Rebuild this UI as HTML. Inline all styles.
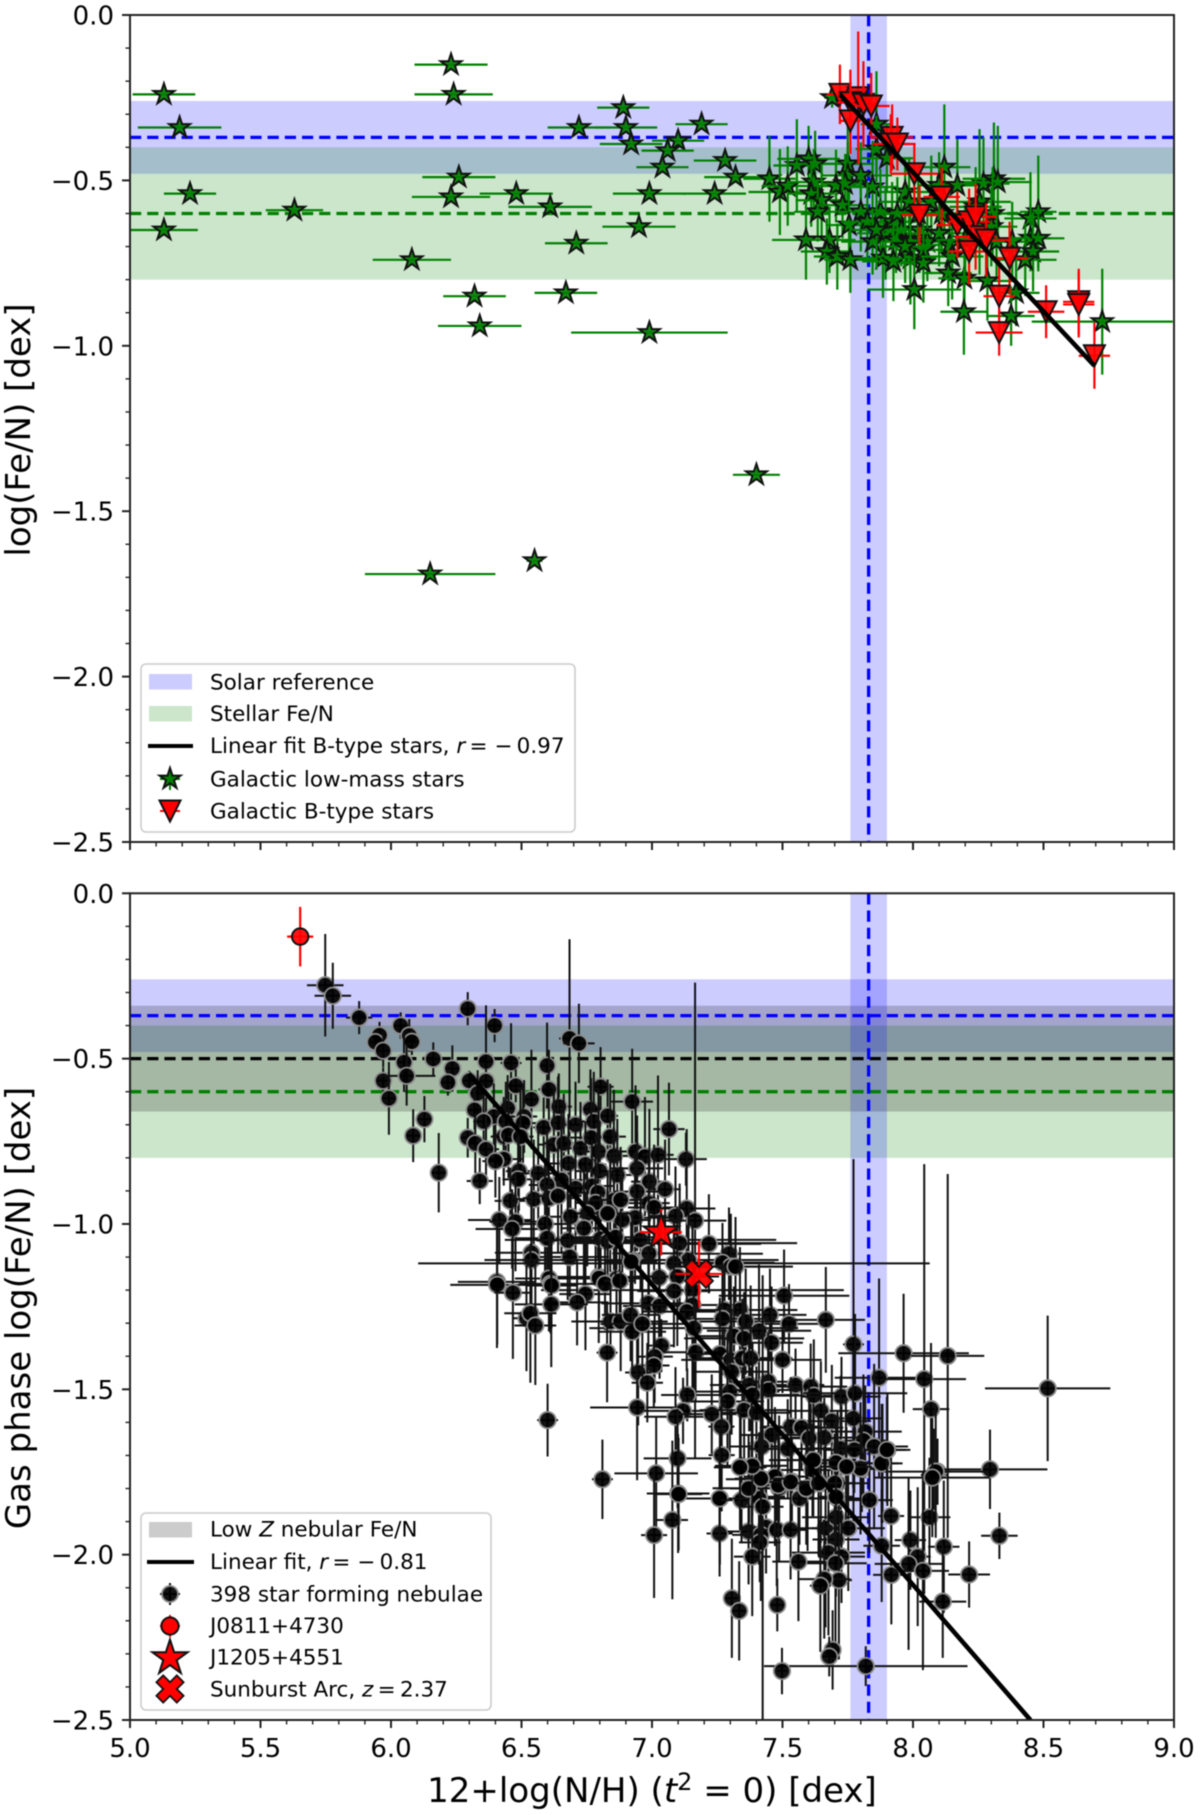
<!DOCTYPE html>
<html lang="en"><head><meta charset="utf-8"><title>Fe/N versus N/H abundance</title>
<style>
html,body{margin:0;padding:0;background:#fff;width:1200px;height:1815px;overflow:hidden}
svg{display:block;filter:blur(0.45px)}
text{font-family:"DejaVu Sans","Liberation Sans",sans-serif;fill:#000}
.tick{font-size:26px}
.axis{font-size:34px}
.leg{font-size:21.5px}
</style></head>
<body>
<svg id="chart" xmlns="http://www.w3.org/2000/svg" width="1200" height="1815" viewBox="0 0 1200 1815">
<defs>
<clipPath id="clip-top"><rect x="130" y="15" width="1044" height="827"/></clipPath>
<clipPath id="clip-bot"><rect x="130" y="893.3" width="1044" height="826.8"/></clipPath>
</defs>
<g id="top-data" clip-path="url(#clip-top)"></g>
<g id="bot-data" clip-path="url(#clip-bot)"></g>
<g id="axes"></g>

<text class="axis" transform="translate(30,430) rotate(-90)" text-anchor="middle">log(Fe/N) [dex]</text>
<text class="axis" transform="translate(30,1308) rotate(-90)" text-anchor="middle">Gas phase log(Fe/N) [dex]</text>
<text class="axis" x="652" y="1802" text-anchor="middle">12+log(N/H) (<tspan font-style="italic">t</tspan><tspan dy="-12" font-size="24px">2</tspan><tspan dy="12"> = 0) [dex]</tspan></text>

<g id="legend-top">
<rect x="141" y="664" width="434" height="168" rx="5" fill="#fff" fill-opacity=".8" stroke="#ccc" stroke-width="1.6"/>
<rect x="149" y="674" width="43" height="15.5" fill="#ccccff"/>
<rect x="149" y="706" width="43" height="15.5" fill="#cce6cc"/>
<line x1="148" x2="193" y1="746" y2="746" stroke="#000" stroke-width="4"/>
<g id="legend-top-glyphs"></g>
<text class="leg" x="210" y="689.5">Solar reference</text>
<text class="leg" x="210" y="721">Stellar Fe/N</text>
<text class="leg" x="210" y="753">Linear fit B-type stars, <tspan font-style="italic">r</tspan>&#8201;= −&#8201;0.97</text>
<text class="leg" x="210" y="786.5">Galactic low-mass stars</text>
<text class="leg" x="210" y="818.5">Galactic B-type stars</text>
</g>

<g id="legend-bot">
<rect x="141" y="1513" width="350" height="197" rx="5" fill="#fff" fill-opacity=".8" stroke="#ccc" stroke-width="1.6"/>
<rect x="149" y="1522" width="43" height="15.5" fill="#cccccc"/>
<line x1="147" x2="194" y1="1562" y2="1562" stroke="#000" stroke-width="4"/>
<g id="legend-bot-glyphs"></g>
<text class="leg" x="210" y="1536.5">Low <tspan font-style="italic">Z</tspan> nebular Fe/N</text>
<text class="leg" x="210" y="1569">Linear fit, <tspan font-style="italic">r</tspan>&#8201;= −&#8201;0.81</text>
<text class="leg" x="210" y="1601.5">398 star forming nebulae</text>
<text class="leg" x="210" y="1633">J0811+4730</text>
<text class="leg" x="210" y="1664.5">J1205+4551</text>
<text class="leg" x="210" y="1696.5">Sunburst Arc, <tspan font-style="italic">z</tspan>&#8201;=&#8201;2.37</text>
</g>
</svg>

<script>
// ---------- axis values ----------
const xTicks = [5.0,5.5,6.0,6.5,7.0,7.5,8.0,8.5,9.0];
const xTickLabels = ["5.0","5.5","6.0","6.5","7.0","7.5","8.0","8.5","9.0"];
const yTicks = [0,-0.5,-1.0,-1.5,-2.0,-2.5];
const yTickLabels = ["0.0","−0.5","−1.0","−1.5","−2.0","−2.5"];
const xMinorTicks = [5.1,5.2,5.3,5.4,5.6,5.7,5.8,5.9,6.1,6.2,6.3,6.4,6.6,6.7,6.8,6.9,7.1,7.2,7.3,7.4,7.6,7.7,7.8,7.9,8.1,8.2,8.3,8.4,8.6,8.7,8.8,8.9];
const yMinorTicks = [-0.1,-0.2,-0.3,-0.4,-0.6,-0.7,-0.8,-0.9,-1.1,-1.2,-1.3,-1.4,-1.6,-1.7,-1.8,-1.9,-2.1,-2.2,-2.3,-2.4];

// ---------- reference bands and lines ----------
const solarBandY = [-0.26,-0.48];
const stellarBandY = [-0.40,-0.80];
const nebularBandY = [-0.34,-0.66];
const solarBandX = [7.76,7.90];
const solarFeN = [-0.37];
const stellarFeN = [-0.60];
const nebularFeN = [-0.50];
const solarNH = [7.83];

// ---------- top panel: low-mass stars ----------
const starX = [5.13,5.19,5.23,5.13,5.63,6.08,6.23,6.24,6.26,6.23,
6.32,6.34,6.48,6.61,6.72,6.71,6.67,6.89,6.90,6.92,
6.99,6.95,6.99,7.10,7.06,7.04,7.19,7.28,7.32,7.24,
7.40,6.55,6.15,
7.69,7.86,7.86,7.90,7.75,7.555,7.60,7.625,8.12,7.45,
7.49,7.52,7.62,7.75,7.80,7.705,7.74,7.845,7.61,7.65,
7.635,7.73,7.80,7.875,7.97,7.985,8.07,8.10,8.17,8.255,
8.27,8.31,8.325,8.11,8.305,8.48,8.45,7.755,7.825,7.895,
7.92,7.955,8.025,7.935,7.99,8.055,7.845,7.59,7.68,7.67,
7.71,7.76,7.885,7.925,7.99,8.04,8.04,8.14,8.15,8.30,
8.32,8.38,8.45,8.48,8.46,8.43,8.135,8.197,8.285,8.005,
8.395,8.195,8.376,8.725,7.94,8.02,7.86,8.24,8.10,7.97,8.20];
const starY = [-0.24,-0.34,-0.54,-0.65,-0.59,-0.74,-0.15,-0.24,-0.49,-0.55,
-0.85,-0.94,-0.54,-0.58,-0.34,-0.69,-0.84,-0.28,-0.34,-0.39,
-0.54,-0.64,-0.96,-0.38,-0.41,-0.46,-0.33,-0.44,-0.49,-0.54,
-1.39,-1.65,-1.69,
-0.25,-0.33,-0.405,-0.433,-0.45,-0.455,-0.435,-0.45,-0.46,-0.495,
-0.535,-0.517,-0.505,-0.485,-0.485,-0.517,-0.51,-0.52,-0.54,-0.56,
-0.595,-0.575,-0.595,-0.595,-0.535,-0.565,-0.565,-0.515,-0.515,-0.565,
-0.51,-0.495,-0.505,-0.60,-0.60,-0.595,-0.615,-0.635,-0.625,-0.66,
-0.625,-0.65,-0.65,-0.68,-0.685,-0.685,-0.685,-0.68,-0.68,-0.715,
-0.73,-0.74,-0.735,-0.745,-0.735,-0.71,-0.75,-0.695,-0.73,-0.64,
-0.685,-0.685,-0.675,-0.675,-0.715,-0.74,-0.78,-0.796,-0.804,-0.83,
-0.84,-0.897,-0.91,-0.927,-0.60,-0.60,-0.65,-0.58,-0.66,-0.70,-0.68];
const starXErr = [0.12,0.16,0.10,0.13,0.11,0.15,0.14,0.15,0.14,0.15,
0.12,0.16,0.14,0.16,0.12,0.12,0.12,0.10,0.12,0.12,
0.14,0.14,0.30,0.10,0.10,0.10,0.10,0.12,0.12,0.12,
0.09,0.03,0.25,
0.03,0.06,0.08,0.10,0.10,0.09,0.12,0.10,0.10,0.10,
0.12,0.10,0.10,0.10,0.12,0.10,0.09,0.10,0.09,0.10,
0.09,0.10,0.10,0.11,0.10,0.12,0.10,0.08,0.10,0.12,
0.10,0.12,0.13,0.10,0.11,0.07,0.10,0.09,0.10,0.11,
0.12,0.10,0.11,0.10,0.10,0.10,0.12,0.13,0.10,0.10,
0.09,0.10,0.13,0.12,0.10,0.10,0.10,0.11,0.12,0.10,
0.10,0.09,0.08,0.10,0.10,0.12,0.09,0.10,0.10,0.18,
0.09,0.09,0.09,0.27,0.10,0.11,0.09,0.10,0.12,0.10,0.11];
const starYErr = [0,0,0,0,0,0,0,0,0,0,
0,0,0,0,0,0,0,0,0,0,
0,0,0,0,0,0,0,0,0,0,
0,0,0,
0.03,0.16,0.10,0.10,0.14,0.14,0.10,0.10,0.19,0.13,
0.13,0.12,0.10,0.10,0.10,0.11,0.09,0.14,0.10,0.11,
0.09,0.10,0.12,0.13,0.10,0.13,0.14,0.10,0.14,0.22,
0.14,0.17,0.17,0.12,0.14,0.17,0.14,0.10,0.12,0.14,
0.12,0.11,0.13,0.10,0.12,0.12,0.10,0.12,0.10,0.10,
0.10,0.10,0.12,0.12,0.14,0.12,0.12,0.11,0.13,0.12,
0.11,0.12,0.10,0.10,0.12,0.11,0.10,0.10,0.12,0.12,
0.10,0.13,0.09,0.16,0.11,0.10,0.12,0.12,0.10,0.11,0.10];

// ---------- top panel: B-type stars ----------
const bStarX = [7.72,7.79,7.76,7.81,7.76,7.84,7.92,7.915,7.94,8.005,8.11,8.025,8.17,8.215,8.24,8.24,8.28,8.215,8.37,8.33,8.33,8.51,8.635,8.635,8.695];
const bStarY = [-0.24,-0.25,-0.265,-0.27,-0.32,-0.275,-0.37,-0.39,-0.39,-0.48,-0.55,-0.605,-0.635,-0.625,-0.61,-0.67,-0.68,-0.715,-0.735,-0.85,-0.96,-0.897,-0.867,-0.875,-1.03];
const bStarXErr = [0.05,0.06,0.05,0.05,0.04,0.07,0.08,0.07,0.07,0.09,0.07,0.07,0.08,0.08,0.08,0.08,0.09,0.08,0.07,0.06,0.09,0.07,0.06,0.06,0.06];
const bStarYErr = [0.09,0.20,0.10,0.13,0.10,0.10,0.10,0.09,0.08,0.09,0.09,0.09,0.10,0.10,0.10,0.10,0.11,0.10,0.11,0.11,0.07,0.08,0.10,0.10,0.10];
const bStarFitX = [7.72,8.695];
const bStarFitY = [-0.24,-1.06];

// ---------- bottom panel: nebulae ----------
const nebulaX = [5.748,5.777,5.878,6.294,6.397,6.037,5.956,5.94,6.07,6.08,
5.97,6.05,6.162,6.235,6.364,6.46,6.598,6.684,6.72,5.97,
6.06,6.218,6.30,6.364,6.478,6.605,6.803,5.992,6.332,6.538,
6.447,6.32,6.643,6.764,6.128,6.085,6.183,6.394,6.355,6.44,
6.51,6.506,6.585,6.64,6.707,6.777,6.83,6.294,6.323,6.364,
6.432,6.45,6.496,6.432,6.40,6.49,6.487,6.34,6.457,6.564,
6.624,6.662,6.726,6.767,6.84,6.795,6.68,6.745,6.854,6.80,
6.867,6.653,6.598,6.707,6.77,6.793,6.547,6.605,6.64,6.784,
6.84,6.752,6.854,6.688,6.739,6.415,6.477,6.464,6.59,6.598,
6.677,6.803,6.83,6.685,6.538,6.538,6.796,6.864,6.605,6.406,
6.924,7.065,6.937,6.973,7.023,7.13,6.943,6.99,7.05,6.943,
6.988,7.008,7.133,7.09,7.165,6.935,6.886,6.956,6.988,6.925,
7.106,7.218,7.14,7.084,7.295,7.27,7.302,7.32,7.027,7.097,
7.084,7.155,7.506,6.986,7.029,7.155,7.133,7.278,7.337,7.452,
7.27,7.359,7.525,7.666,7.41,7.16,7.314,7.353,7.458,7.772,
7.036,7.167,7.26,7.302,7.346,7.378,7.50,7.964,8.133,7.01,
7.007,6.947,6.982,7.305,7.87,8.043,7.372,7.445,7.55,7.608,
7.298,7.446,7.135,7.62,7.726,7.778,7.385,7.289,6.943,7.647,
8.069,7.119,7.09,7.229,7.353,7.40,7.689,7.771,6.60,7.266,
7.532,7.573,7.459,7.817,7.81,7.66,7.602,7.42,7.52,7.723,
7.775,7.851,7.902,7.098,7.267,7.34,7.382,7.608,7.711,7.743,
7.804,7.883,7.615,7.016,6.81,8.08,8.094,7.423,7.472,7.536,
7.647,7.711,7.596,7.372,7.487,7.10,7.41,7.26,7.711,6.407,
6.467,6.611,6.615,6.797,6.82,6.876,6.745,6.713,6.614,6.519,
6.534,6.553,6.841,6.88,6.918,6.924,6.963,6.828,6.86,6.83,
6.88,6.92,7.833,7.916,8.063,7.078,7.008,7.259,7.37,7.437,
7.417,7.478,7.531,7.665,7.705,7.752,7.705,7.413,7.384,7.99,
8.331,8.118,7.88,7.676,7.726,8.018,7.703,7.561,7.983,8.038,
8.215,7.917,7.716,7.66,7.645,8.114,7.306,7.334,7.48,7.692,
7.679,7.819,7.498,8.295,8.087,8.074,7.102,7.259,7.343,7.41,
7.37,7.424,7.565,7.591,7.471,7.484,7.531,7.417,7.70,7.638,
7.705,7.799,7.88,7.705,7.618,7.384,7.337,7.745,7.90,8.516];
const nebulaY = [-0.278,-0.31,-0.376,-0.349,-0.40,-0.40,-0.429,-0.45,-0.43,-0.449,
-0.476,-0.511,-0.501,-0.53,-0.509,-0.513,-0.521,-0.439,-0.454,-0.567,
-0.552,-0.572,-0.567,-0.568,-0.582,-0.593,-0.585,-0.62,-0.605,-0.623,
-0.65,-0.655,-0.645,-0.653,-0.683,-0.733,-0.845,-0.675,-0.69,-0.69,
-0.675,-0.695,-0.708,-0.694,-0.70,-0.69,-0.673,-0.739,-0.756,-0.774,
-0.736,-0.731,-0.736,-0.804,-0.81,-0.84,-0.865,-0.87,-0.93,-0.847,
-0.76,-0.756,-0.771,-0.739,-0.736,-0.781,-0.817,-0.82,-0.794,-0.84,
-0.852,-0.867,-0.882,-0.892,-0.885,-0.905,-0.925,-0.922,-0.915,-0.936,
-0.965,-0.968,-0.928,-0.978,-1.013,-0.988,-0.993,-1.015,-1.00,-1.043,
-1.05,-1.045,-1.053,-1.10,-1.087,-1.109,-1.16,-1.165,-1.165,-1.175,
-0.63,-0.713,-0.781,-0.796,-0.791,-0.804,-0.832,-0.872,-0.895,-0.902,
-0.937,-0.95,-0.953,-0.976,-0.99,-0.981,-0.988,-1.048,-1.089,-1.109,
-1.058,-1.06,-1.109,-1.119,-1.09,-1.117,-1.129,-1.129,-1.162,-1.159,
-1.203,-1.20,-1.217,-1.24,-1.248,-1.245,-1.265,-1.26,-1.26,-1.275,
-1.287,-1.295,-1.302,-1.29,-1.323,-1.315,-1.339,-1.346,-1.359,-1.364,
-1.368,-1.388,-1.393,-1.411,-1.406,-1.406,-1.411,-1.391,-1.399,-1.401,
-1.428,-1.449,-1.48,-1.447,-1.465,-1.469,-1.487,-1.477,-1.487,-1.492,
-1.507,-1.502,-1.517,-1.519,-1.522,-1.512,-1.517,-1.537,-1.555,-1.565,
-1.56,-1.565,-1.583,-1.575,-1.563,-1.571,-1.596,-1.588,-1.593,-1.613,
-1.613,-1.616,-1.638,-1.628,-1.655,-1.646,-1.648,-1.673,-1.68,-1.679,
-1.683,-1.673,-1.683,-1.709,-1.699,-1.734,-1.731,-1.714,-1.724,-1.734,
-1.741,-1.724,-1.744,-1.754,-1.772,-1.759,-1.749,-1.772,-1.764,-1.779,
-1.784,-1.784,-1.799,-1.799,-1.799,-1.815,-1.825,-1.83,-1.83,-1.184,
-1.208,-1.181,-1.186,-1.164,-1.181,-1.172,-1.212,-1.237,-1.243,-1.285,
-1.27,-1.307,-1.295,-1.295,-1.275,-1.326,-1.302,-1.389,-1.04,-0.968,
-0.927,-1.114,-1.835,-1.883,-1.887,-1.895,-1.941,-1.936,-1.93,-1.917,
-1.94,-1.925,-1.925,-1.92,-1.887,-1.92,-1.954,-1.963,-2.006,-1.956,
-1.943,-1.976,-1.973,-1.994,-2.006,-2.006,-2.026,-2.021,-2.028,-2.049,
-2.06,-2.061,-2.077,-2.074,-2.094,-2.142,-2.132,-2.17,-2.152,-2.288,
-2.308,-2.337,-2.352,-1.742,-1.749,-1.767,-1.817,-1.83,-1.835,-1.83,
-1.80,-1.855,-1.83,-1.80,-1.764,-1.79,-1.78,-1.77,-1.784,-1.784,
-1.825,-1.739,-1.724,-1.722,-1.714,-1.732,-1.736,-1.734,-1.683,-1.497];
const nebulaXErr = [0.07,0.07,0.05,0.03,0.03,0.03,0.03,0.02,0.03,0.03,
0.03,0.03,0.03,0.03,0.03,0.04,0.03,0.04,0.06,0.03,
0.11,0.03,0.03,0.03,0.03,0.04,0.05,0.03,0.03,0.03,
0.03,0.03,0.05,0.04,0.03,0.03,0.03,0.04,0.04,0.04,
0.05,0.06,0.04,0.05,0.05,0.06,0.04,0.03,0.04,0.05,
0.05,0.06,0.05,0.07,0.05,0.05,0.06,0.05,0.06,0.07,
0.06,0.08,0.07,0.08,0.06,0.07,0.09,0.08,0.07,0.09,
0.08,0.08,0.07,0.10,0.08,0.09,0.08,0.10,0.09,0.08,
0.07,0.10,0.09,0.11,0.09,0.12,0.10,0.14,0.10,0.12,
0.12,0.10,0.13,0.15,0.14,0.18,0.20,0.14,0.13,0.15,
0.08,0.06,0.07,0.05,0.06,0.08,0.10,0.07,0.06,0.09,
0.08,0.10,0.11,0.10,0.12,0.13,0.11,0.52,0.14,0.56,
0.45,0.20,0.16,0.98,0.13,0.20,0.20,0.22,0.15,0.16,
0.14,0.58,0.25,0.18,0.14,0.19,0.17,0.16,0.22,0.14,
0.17,0.19,0.12,0.15,0.20,0.40,0.15,0.23,0.12,0.04,
0.05,0.12,0.13,0.19,0.17,0.16,0.15,0.25,0.14,0.07,
0.06,0.05,0.06,0.14,0.17,0.16,0.15,0.12,0.11,0.14,
0.19,0.13,0.10,0.16,0.15,0.20,0.18,0.14,0.18,0.13,
0.07,0.15,0.12,0.14,0.17,0.13,0.15,0.11,0.04,0.05,
0.11,0.16,0.12,0.14,0.09,0.13,0.11,0.12,0.15,0.10,
0.12,0.13,0.07,0.13,0.05,0.10,0.14,0.16,0.12,0.10,
0.09,0.06,0.15,0.16,0.04,0.05,0.05,0.14,0.11,0.16,
0.10,0.12,0.09,0.14,0.11,0.12,0.10,0.13,0.11,0.18,
0.07,0.12,0.10,0.14,0.09,0.06,0.10,0.12,0.14,0.05,
0.10,0.08,0.15,0.18,0.11,0.13,0.16,0.04,0.16,0.12,
0.09,0.10,0.09,0.05,0.08,0.06,0.05,0.05,0.08,0.09,
0.11,0.07,0.06,0.10,0.13,0.14,0.09,0.08,0.07,0.06,
0.07,0.06,0.07,0.14,0.09,0.05,0.12,0.10,0.13,0.10,
0.08,0.07,0.05,0.10,0.04,0.09,0.03,0.03,0.03,0.02,
0.03,0.39,0.02,0.22,0.20,0.22,0.09,0.12,0.08,0.10,
0.07,0.08,0.10,0.07,0.12,0.09,0.11,0.10,0.08,0.09,
0.07,0.10,0.08,0.12,0.09,0.11,0.10,0.09,0.09,0.24];
const nebulaYErr = [0.155,0.10,0.05,0.05,0.05,0.04,0.04,0.03,0.05,0.04,
0.05,0.09,0.05,0.07,0.17,0.12,0.13,0.30,0.12,0.04,
0.09,0.04,0.03,0.04,0.05,0.12,0.12,0.11,0.07,0.15,
0.10,0.06,0.10,0.12,0.07,0.08,0.12,0.10,0.09,0.12,
0.11,0.12,0.09,0.14,0.13,0.15,0.11,0.06,0.09,0.10,
0.12,0.13,0.15,0.08,0.11,0.12,0.13,0.07,0.10,0.14,
0.17,0.15,0.14,0.18,0.16,0.19,0.15,0.13,0.20,0.15,
0.17,0.22,0.16,0.19,0.14,0.20,0.18,0.15,0.17,0.21,
0.18,0.16,0.22,0.14,0.19,0.13,0.15,0.12,0.20,0.16,
0.18,0.14,0.15,0.12,0.22,0.17,0.20,0.15,0.16,0.20,
0.16,0.14,0.20,0.18,0.24,0.08,0.16,0.22,0.15,0.18,
0.13,0.19,0.24,0.15,0.72,0.20,0.16,0.15,0.19,0.13,
0.18,0.15,0.17,0.13,0.14,0.12,0.16,0.15,0.19,0.21,
0.17,0.20,0.14,0.16,0.22,0.25,0.18,0.13,0.19,0.14,
0.17,0.16,0.12,0.16,0.20,0.19,0.15,0.14,0.17,0.56,
0.08,0.15,0.17,0.20,0.18,0.22,0.10,0.18,0.55,0.14,
0.13,0.16,0.12,0.19,0.30,0.65,0.14,0.15,0.11,0.13,
0.20,0.16,0.08,0.17,0.12,0.24,0.16,0.20,0.22,0.15,
0.20,0.10,0.15,0.12,0.19,0.14,0.17,0.21,0.11,0.18,
0.15,0.13,0.16,0.14,0.20,0.12,0.17,0.19,0.15,0.22,
0.13,0.25,0.17,0.15,0.17,0.15,0.19,0.12,0.16,0.20,
0.13,0.18,0.14,0.17,0.12,0.14,0.10,0.17,0.20,0.13,
0.18,0.15,0.19,0.14,0.22,0.18,0.13,0.20,0.16,0.18,
0.20,0.15,0.13,0.12,0.14,0.10,0.17,0.13,0.19,0.16,
0.21,0.18,0.11,0.15,0.14,0.12,0.16,0.15,0.12,0.13,
0.16,0.12,0.16,0.20,0.18,0.24,0.19,0.13,0.16,0.14,
0.20,0.17,0.15,0.30,0.24,0.19,0.14,0.12,0.18,0.15,
0.07,0.20,0.17,0.25,0.14,0.21,0.26,0.18,0.26,0.30,
0.10,0.15,0.24,0.18,0.20,0.17,0.18,0.15,0.08,0.12,
0.06,0.06,0.07,0.12,0.20,0.18,0.17,0.15,0.13,0.20,
0.16,0.70,0.14,0.17,0.21,0.16,0.13,0.19,0.15,0.22,
0.14,0.20,0.18,0.13,0.17,0.15,0.19,0.12,0.16,0.22];
const nebulaFitX = [6.298,8.45];
const nebulaFitY = [-0.545,-2.50];

// ---------- highlighted objects ----------
const j0811 = [5.652,-0.131,0.05,0.09];
const j1205 = [7.035,-1.025,0.08,0.07];
const sunburst = [7.18,-1.151,0.09,0.10];

// ---------- scales ----------
const plotLeft = 130, plotRight = 1174;
const topAxisY0 = 15, topAxisY1 = 842;
const botAxisY0 = 893.3, botAxisY1 = 1720;
function xPos(v){ return plotLeft + (v - 5) / 4 * (plotRight - plotLeft); }
function yTop(v){ return topAxisY0 + (-v) / 2.5 * (topAxisY1 - topAxisY0); }
function yBot(v){ return botAxisY0 + (-v) / 2.5 * (botAxisY1 - botAxisY0); }

const NS = "http://www.w3.org/2000/svg";
function make(tag, parent, attrs){
  const el = document.createElementNS(NS, tag);
  for (const k in attrs) el.setAttribute(k, attrs[k]);
  parent.appendChild(el);
  return el;
}
function starPts(cx, cy, r){
  const p = [];
  for (let i = 0; i < 10; i++){
    const a = -Math.PI / 2 + i * Math.PI / 5;
    const rr = i % 2 ? r * 0.381966 : r;
    p.push((cx + rr * Math.cos(a)).toFixed(2) + "," + (cy + rr * Math.sin(a)).toFixed(2));
  }
  return p.join(" ");
}
function triPts(cx, cy, r){
  return (cx - r) + "," + (cy - r) + " " + (cx + r) + "," + (cy - r) + " " + cx + "," + (cy + r);
}
function crossPts(cx, cy, s){
  const v = [[-1,-2],[0,-1],[1,-2],[2,-1],[1,0],[2,1],[1,2],[0,1],[-1,2],[-2,1],[-1,0],[-2,-1]];
  return v.map(function(q){ return (cx + q[0] * s) + "," + (cy + q[1] * s); }).join(" ");
}

const topLayer = document.getElementById("top-data");
const botLayer = document.getElementById("bot-data");
const axesLayer = document.getElementById("axes");
const DASH = "11.2 6";

function drawBars(g, px, py, x0, x1, y0, y1, color, w){
  make("line", g, {x1:x0, x2:x1, y1:py, y2:py, stroke:color, "stroke-width":w});
  make("line", g, {x1:px, x2:px, y1:y0, y2:y1, stroke:color, "stroke-width":w});
}

function drawBackdrop(layer, yFn, isBottom){
  const b1 = make("rect", layer, {x:plotLeft, width:plotRight-plotLeft, y:yFn(solarBandY[0]), height:yFn(solarBandY[1])-yFn(solarBandY[0]), fill:"#0000ff", "fill-opacity":0.2});
  
  
  const b2 = make("rect", layer, {x:plotLeft, width:plotRight-plotLeft, y:yFn(stellarBandY[0]), height:yFn(stellarBandY[1])-yFn(stellarBandY[0]), fill:"#008000", "fill-opacity":0.2});
  
  
  if (isBottom){
    const b3 = make("rect", layer, {x:plotLeft, width:plotRight-plotLeft, y:yFn(nebularBandY[0]), height:yFn(nebularBandY[1])-yFn(nebularBandY[0]), fill:"#000000", "fill-opacity":0.2});
    
    
  }
  const b4 = make("rect", layer, {x:xPos(solarBandX[0]), width:xPos(solarBandX[1])-xPos(solarBandX[0]), y:yFn(0), height:yFn(-2.5)-yFn(0), fill:"#0000ff", "fill-opacity":0.2});
  
  
  const l1 = make("line", layer, {x1:plotLeft, x2:plotRight, y1:yFn(solarFeN[0]), y2:yFn(solarFeN[0]), stroke:"#0000ff", "stroke-width":3.3, "stroke-dasharray":DASH});
  
  
  const l2 = make("line", layer, {x1:plotLeft, x2:plotRight, y1:yFn(stellarFeN[0]), y2:yFn(stellarFeN[0]), stroke:"#008000", "stroke-width":3.3, "stroke-dasharray":DASH});
  
  
  if (isBottom){
    const l3 = make("line", layer, {x1:plotLeft, x2:plotRight, y1:yFn(nebularFeN[0]), y2:yFn(nebularFeN[0]), stroke:"#000000", "stroke-width":3.3, "stroke-dasharray":DASH});
    
    
  }
  const l4 = make("line", layer, {x1:xPos(solarNH[0]), x2:xPos(solarNH[0]), y1:yFn(0), y2:yFn(-2.5), stroke:"#0000ff", "stroke-width":3.3, "stroke-dasharray":DASH});
  
  
}

drawBackdrop(topLayer, yTop, false);

// low-mass stars
starX.forEach(function(x, i){
  const y = starY[i], xe = starXErr[i] || 0, ye = starYErr[i] || 0;
  const g = make("g", topLayer, {});
  
  
  drawBars(g, xPos(x), yTop(y), xPos(x-xe), xPos(x+xe), yTop(y+ye), yTop(y-ye), "#008000", 2.2);
  make("polygon", g, {points:starPts(xPos(x), yTop(y), 11), fill:"#008000", "fill-opacity":0.92, stroke:"#111", "stroke-width":2, "stroke-linejoin":"miter"});
});
// B-type stars
bStarX.forEach(function(x, i){
  const y = bStarY[i], xe = bStarXErr[i] || 0, ye = bStarYErr[i] || 0;
  const g = make("g", topLayer, {});
  
  
  drawBars(g, xPos(x), yTop(y), xPos(x-xe), xPos(x+xe), yTop(y+ye), yTop(y-ye), "#ff0000", 2.2);
  make("polygon", g, {points:triPts(xPos(x), yTop(y), 10.5), fill:"#ff0000", "fill-opacity":0.92, stroke:"#111", "stroke-width":2});
});
const fitTop = make("line", topLayer, {x1:xPos(bStarFitX[0]), x2:xPos(bStarFitX[1]), y1:yTop(bStarFitY[0]), y2:yTop(bStarFitY[1]), stroke:"#000", "stroke-width":4.6});



drawBackdrop(botLayer, yBot, true);

// nebulae
nebulaX.forEach(function(x, i){
  const y = nebulaY[i];
  const xe = nebulaXErr[i] === undefined ? 0.1 : nebulaXErr[i];
  const ye = nebulaYErr[i] === undefined ? 0.15 : nebulaYErr[i];
  const g = make("g", botLayer, {});
  
  
  drawBars(g, xPos(x), yBot(y), xPos(x-xe), xPos(x+xe), yBot(y+ye), yBot(y-ye), "#111", 2);
  make("circle", g, {cx:xPos(x), cy:yBot(y), r:8.2, fill:"#000", "fill-opacity":0.93, stroke:"#8c8c8c", "stroke-width":1.8});
});
const fitBot = make("line", botLayer, {x1:xPos(nebulaFitX[0]), x2:xPos(nebulaFitX[1]), y1:yBot(nebulaFitY[0]), y2:yBot(nebulaFitY[1]), stroke:"#000", "stroke-width":4.6});



// highlights
const gA = make("g", botLayer, {});


drawBars(gA, xPos(j0811[0]), yBot(j0811[1]), xPos(j0811[0]-j0811[2]), xPos(j0811[0]+j0811[2]), yBot(j0811[1]+j0811[3]), yBot(j0811[1]-j0811[3]), "#ff0000", 2.2);
make("circle", gA, {cx:xPos(j0811[0]), cy:yBot(j0811[1]), r:8.2, fill:"#ff0000", "fill-opacity":0.92, stroke:"#111", "stroke-width":2});
const gB = make("g", botLayer, {});


drawBars(gB, xPos(j1205[0]), yBot(j1205[1]), xPos(j1205[0]-j1205[2]), xPos(j1205[0]+j1205[2]), yBot(j1205[1]+j1205[3]), yBot(j1205[1]-j1205[3]), "#ff0000", 2.2);
make("polygon", gB, {points:starPts(xPos(j1205[0]), yBot(j1205[1]), 18.5), fill:"#ff0000", "fill-opacity":0.95, stroke:"#111", "stroke-width":2});
const gC = make("g", botLayer, {});


drawBars(gC, xPos(sunburst[0]), yBot(sunburst[1]), xPos(sunburst[0]-sunburst[2]), xPos(sunburst[0]+sunburst[2]), yBot(sunburst[1]+sunburst[3]), yBot(sunburst[1]-sunburst[3]), "#ff0000", 2.2);
make("polygon", gC, {points:crossPts(xPos(sunburst[0]), yBot(sunburst[1]), 7), fill:"#ff0000", "fill-opacity":0.95, stroke:"#111", "stroke-width":1.8});

// axes
function drawAxes(yFn, y0, y1, name, showX){
  const frame = make("rect", axesLayer, {x:plotLeft, y:y0, width:plotRight-plotLeft, height:y1-y0, fill:"none", stroke:"#222", "stroke-width":2});
  
  
  xTicks.forEach(function(v, i){
    make("line", axesLayer, {x1:xPos(v), x2:xPos(v), y1:y1, y2:y1+8, stroke:"#222", "stroke-width":2});
    if (showX){
      const t = make("text", axesLayer, {x:xPos(v), y:y1+37, "text-anchor":"middle", class:"tick"});
      t.textContent = xTickLabels[i];
      
      
    }
  });
  xMinorTicks.forEach(function(v){
    make("line", axesLayer, {x1:xPos(v), x2:xPos(v), y1:y1, y2:y1+4.5, stroke:"#222", "stroke-width":1.4});
  });
  yTicks.forEach(function(v, i){
    make("line", axesLayer, {x1:plotLeft-8, x2:plotLeft, y1:yFn(v), y2:yFn(v), stroke:"#222", "stroke-width":2});
    const t = make("text", axesLayer, {x:plotLeft-16, y:yFn(v)+9.5, "text-anchor":"end", class:"tick"});
    t.textContent = yTickLabels[i];
    
    
  });
  yMinorTicks.forEach(function(v){
    make("line", axesLayer, {x1:plotLeft-4.5, x2:plotLeft, y1:yFn(v), y2:yFn(v), stroke:"#222", "stroke-width":1.4});
  });
}
drawAxes(yTop, topAxisY0, topAxisY1, "top-panel", false);
drawAxes(yBot, botAxisY0, botAxisY1, "bottom-panel", true);

// legend glyphs
const lgTop = document.getElementById("legend-top-glyphs");
drawBars(lgTop, 170, 779, 160, 180, 768, 790, "#008000", 2);
make("polygon", lgTop, {points:starPts(170, 779, 11), fill:"#008000", stroke:"#111", "stroke-width":2});
drawBars(lgTop, 170, 811, 160, 180, 800, 822, "#ff0000", 2);
make("polygon", lgTop, {points:triPts(170, 811, 10.5), fill:"#ff0000", stroke:"#111", "stroke-width":2});
const lgBot = document.getElementById("legend-bot-glyphs");
drawBars(lgBot, 170, 1594, 160, 180, 1583, 1605, "#111", 2);
make("circle", lgBot, {cx:170, cy:1594, r:8, fill:"#000", "fill-opacity":0.93, stroke:"#8c8c8c", "stroke-width":1.8});
drawBars(lgBot, 170, 1626, 160, 180, 1615, 1637, "#ff0000", 2);
make("circle", lgBot, {cx:170, cy:1626, r:8.6, fill:"#ff0000", stroke:"#111", "stroke-width":2});
make("polygon", lgBot, {points:starPts(170, 1658, 18.5), fill:"#ff0000", stroke:"#111", "stroke-width":2});
make("polygon", lgBot, {points:crossPts(170, 1689, 6.8), fill:"#ff0000", stroke:"#111", "stroke-width":1.8});
</script>
</body></html>
